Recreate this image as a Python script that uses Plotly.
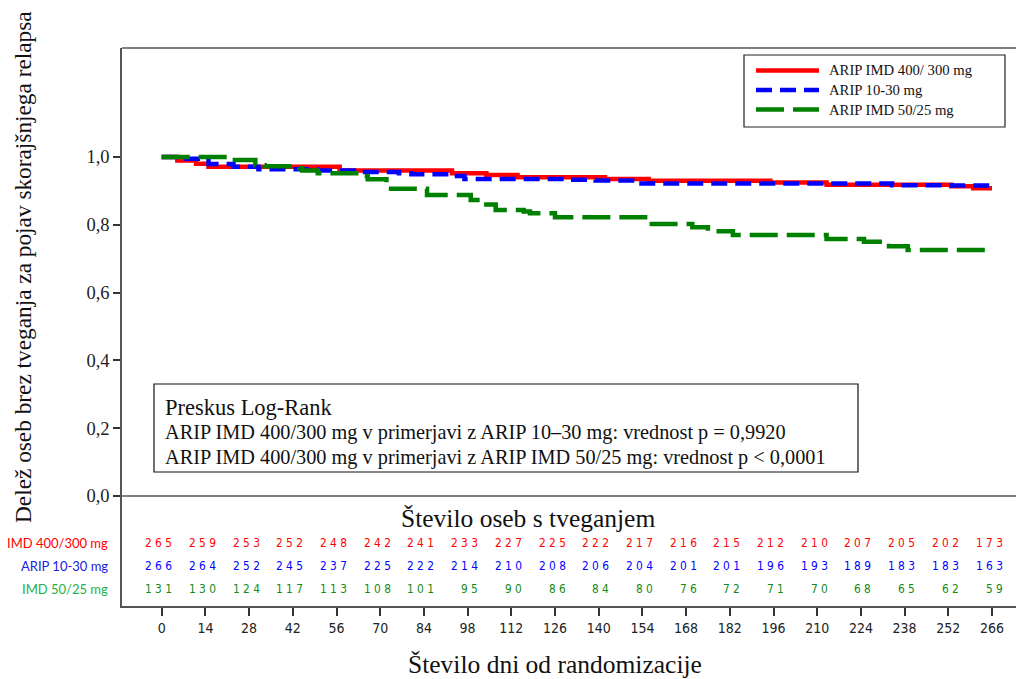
import plotly.graph_objects as go

# ---------------- data ----------------
red_t = [0, 5, 11, 15, 57, 93, 104, 114, 142, 156, 195, 213, 253, 260, 266]
red_s = [1.0, 0.99, 0.98, 0.971, 0.96, 0.952, 0.947, 0.94, 0.935, 0.930, 0.925, 0.918, 0.914, 0.908, 0.908]

blue_t = [0, 7, 15, 23, 31, 50, 64, 76, 80, 93, 97, 130, 139, 152, 234, 253, 266]
blue_s = [1.0, 0.995, 0.979, 0.971, 0.964, 0.960, 0.956, 0.952, 0.949, 0.944, 0.935, 0.933, 0.931, 0.922, 0.917, 0.916, 0.916]

green_t = [0, 22, 30, 33, 44, 45, 50, 64, 66, 72, 85, 99, 104, 107, 116, 118, 126, 156, 170, 175, 183, 213, 225, 233, 239, 264]
green_s = [1.0, 0.991, 0.976, 0.973, 0.967, 0.96, 0.952, 0.944, 0.934, 0.906, 0.888, 0.873, 0.860, 0.844, 0.839, 0.834, 0.822,
           0.802, 0.793, 0.781, 0.770, 0.758, 0.750, 0.737, 0.726, 0.726]

risk_days = list(range(0, 267, 14))
risk_red = [265, 259, 253, 252, 248, 242, 241, 233, 227, 225, 222, 217, 216, 215, 212, 210, 207, 205, 202, 173]
risk_blue = [266, 264, 252, 245, 237, 225, 222, 214, 210, 208, 206, 204, 201, 201, 196, 193, 189, 183, 183, 163]
risk_green = [131, 130, 124, 117, 113, 108, 101, 95, 90, 86, 84, 80, 76, 72, 71, 70, 68, 65, 62, 59]

y_ticks = [0, 0.2, 0.4, 0.6, 0.8, 1.0]
y_ticktext = ["0,0", "0,2", "0,4", "0,6", "0,8", "1,0"]

legend_names = ["ARIP IMD 400/ 300 mg", "ARIP 10-30 mg", "ARIP IMD 50/25 mg"]
row_labels = ["IMD 400/300 mg", "ARIP 10-30 mg", "IMD 50/25 mg"]

# ---------------- layout geometry ----------------
W, H = 1016, 679
L, R, T, B = 122, 0, 48, 73
PW, PH = W - L - R, H - T - B

def px(x):
    return (x - L) / PW

def py(y):
    return (H - B - y) / PH

# axis ranges so that day 0 -> 161.7px, day 266 -> 992px ; y 0 -> 496px, y 1 -> 157px
ppd = (992 - 161.7) / 266
xmin = -(161.7 - L) / ppd
xmax = (W - R - 161.7) / ppd
ppu = (496 - 157) / 1.0
ymax = (496 - T) / ppu
ymin = -(H - B - 496) / ppu

SERIF = "Liberation Serif, Times New Roman, serif"
NARROW = "Liberation Sans Narrow, Arial Narrow, DejaVu Sans Condensed, sans-serif"
SANS = "Lato, Carlito, Calibri, Open Sans, sans-serif"

RED, BLUE, GREEN = "#FF0000", "#0000FF", "#008000"

fig = go.Figure()
fig.add_trace(go.Scatter(x=red_t, y=red_s, mode="lines", line=dict(color=RED, width=4.5, shape="hv"),
                         name=legend_names[0], showlegend=False))
fig.add_trace(go.Scatter(x=blue_t, y=blue_s, mode="lines", line=dict(color=BLUE, width=4.5, shape="hv", dash="16px,8px"),
                         name=legend_names[1], showlegend=False))
fig.add_trace(go.Scatter(x=green_t, y=green_s, mode="lines", line=dict(color=GREEN, width=4.5, shape="hv", dash="28px,9px"),
                         name=legend_names[2], showlegend=False))

shapes = []
AX = "#555555"
# top border
shapes.append(dict(type="line", xref="paper", yref="paper", x0=0, x1=1, y0=1, y1=1, line=dict(color=AX, width=1.5)))
# zero line
shapes.append(dict(type="line", xref="paper", yref="y", x0=0, x1=1, y0=0, y1=0, line=dict(color=AX, width=1.5)))
# legend box
shapes.append(dict(type="rect", xref="paper", yref="paper", x0=px(744), x1=px(1005), y0=py(55), y1=py(127),
                   line=dict(color="#222222", width=1.2), fillcolor="white"))
leg_y = [70.5, 90, 109.5]
leg_cols = [RED, BLUE, GREEN]
leg_dash = ["solid", "16px,8px", "28px,9px"]
annotations = []
for i in range(3):
    shapes.append(dict(type="line", xref="paper", yref="paper", x0=px(756), x1=px(819), y0=py(leg_y[i]), y1=py(leg_y[i]),
                       line=dict(color=leg_cols[i], width=4.5, dash=leg_dash[i])))
    annotations.append(dict(xref="paper", yref="paper", x=px(827), y=py(leg_y[i]), text=legend_names[i],
                            showarrow=False, xanchor="left", yanchor="middle",
                            font=dict(family=SERIF, size=14.7, color="#111111")))
# log-rank box
shapes.append(dict(type="rect", xref="paper", yref="paper", x0=px(154), x1=px(858), y0=py(384), y1=py(472),
                   line=dict(color="#111111", width=1.2), fillcolor="white"))
annotations.append(dict(xref="paper", yref="paper", x=px(163), y=py(407), text="Preskus Log-Rank", showarrow=False,
                        xanchor="left", yanchor="middle", font=dict(family=SERIF, size=22.5, color="#111111")))
annotations.append(dict(xref="paper", yref="paper", x=px(163), y=py(432),
                        text="ARIP IMD 400/300 mg v primerjavi z ARIP 10–30 mg: vrednost p = 0,9920", showarrow=False,
                        xanchor="left", yanchor="middle", font=dict(family=SERIF, size=20.3, color="#111111")))
annotations.append(dict(xref="paper", yref="paper", x=px(163), y=py(457),
                        text="ARIP IMD 400/300 mg v primerjavi z ARIP IMD 50/25 mg: vrednost p < 0,0001", showarrow=False,
                        xanchor="left", yanchor="middle", font=dict(family=SERIF, size=20.3, color="#111111")))

# risk table
annotations.append(dict(xref="paper", yref="paper", x=px(528), y=py(518), text="Število oseb s tveganjem",
                        showarrow=False, xanchor="center", yanchor="middle",
                        font=dict(family=SERIF, size=25.5, color="#111111")))
row_y = [543, 565.5, 589]
row_label_cols = [RED, "#2020E0", "#22B14C"]
row_num_cols = [RED, BLUE, "#138A13"]
for vals, yy, lc, nc, lab in zip([risk_red, risk_blue, risk_green], row_y, row_label_cols, row_num_cols, row_labels):
    annotations.append(dict(xref="paper", yref="paper", x=px(110), y=py(yy), text=lab, showarrow=False,
                            xanchor="right", yanchor="middle", font=dict(family=SANS, size=13, color=lc)))
    for d, v in zip(risk_days, vals):
        annotations.append(dict(xref="x", yref="paper", x=d, y=py(yy), text=" ".join(str(v)), showarrow=False,
                                xanchor="right", yanchor="middle", xshift=12.5,
                                font=dict(family=NARROW, size=11.8, color=nc)))

# titles
annotations.append(dict(xref="paper", yref="paper", x=px(555), y=py(664), text="Število dni od randomizacije",
                        showarrow=False, xanchor="center", yanchor="middle",
                        font=dict(family=SERIF, size=25.5, color="#111111")))
annotations.append(dict(xref="paper", yref="paper", x=px(23), y=py(267),
                        text="Delež oseb brez tveganja za pojav skorajšnjega relapsa", textangle=-90,
                        showarrow=False, xanchor="center", yanchor="middle",
                        font=dict(family=SERIF, size=23.3, color="#111111")))

fig.update_layout(
    width=W, height=H, margin=dict(l=L, r=R, t=T, b=B, pad=0),
    paper_bgcolor="white", plot_bgcolor="white", showlegend=False,
    shapes=shapes, annotations=annotations,
    xaxis=dict(range=[xmin, xmax], tickmode="array", tickvals=risk_days, ticktext=[str(d) for d in risk_days],
               ticks="outside", ticklen=8, tickwidth=1.5, tickcolor="#333333", showline=True, linecolor=AX, linewidth=1.5,
               showgrid=False, zeroline=False, tickfont=dict(family=NARROW, size=14, color="#222222")),
    yaxis=dict(range=[ymin, ymax], tickmode="array", tickvals=y_ticks, ticktext=y_ticktext,
               ticks="outside", ticklen=7, tickwidth=1.5, tickcolor="#333333", showline=True, linecolor=AX, linewidth=1.5,
               showgrid=False, zeroline=False, tickfont=dict(family=SERIF, size=18.5, color="#222222")),
)

fig.write_html("out.html", config={"displayModeBar": False},
               post_script="document.body.style.margin='0px';document.body.style.overflow='hidden';")
